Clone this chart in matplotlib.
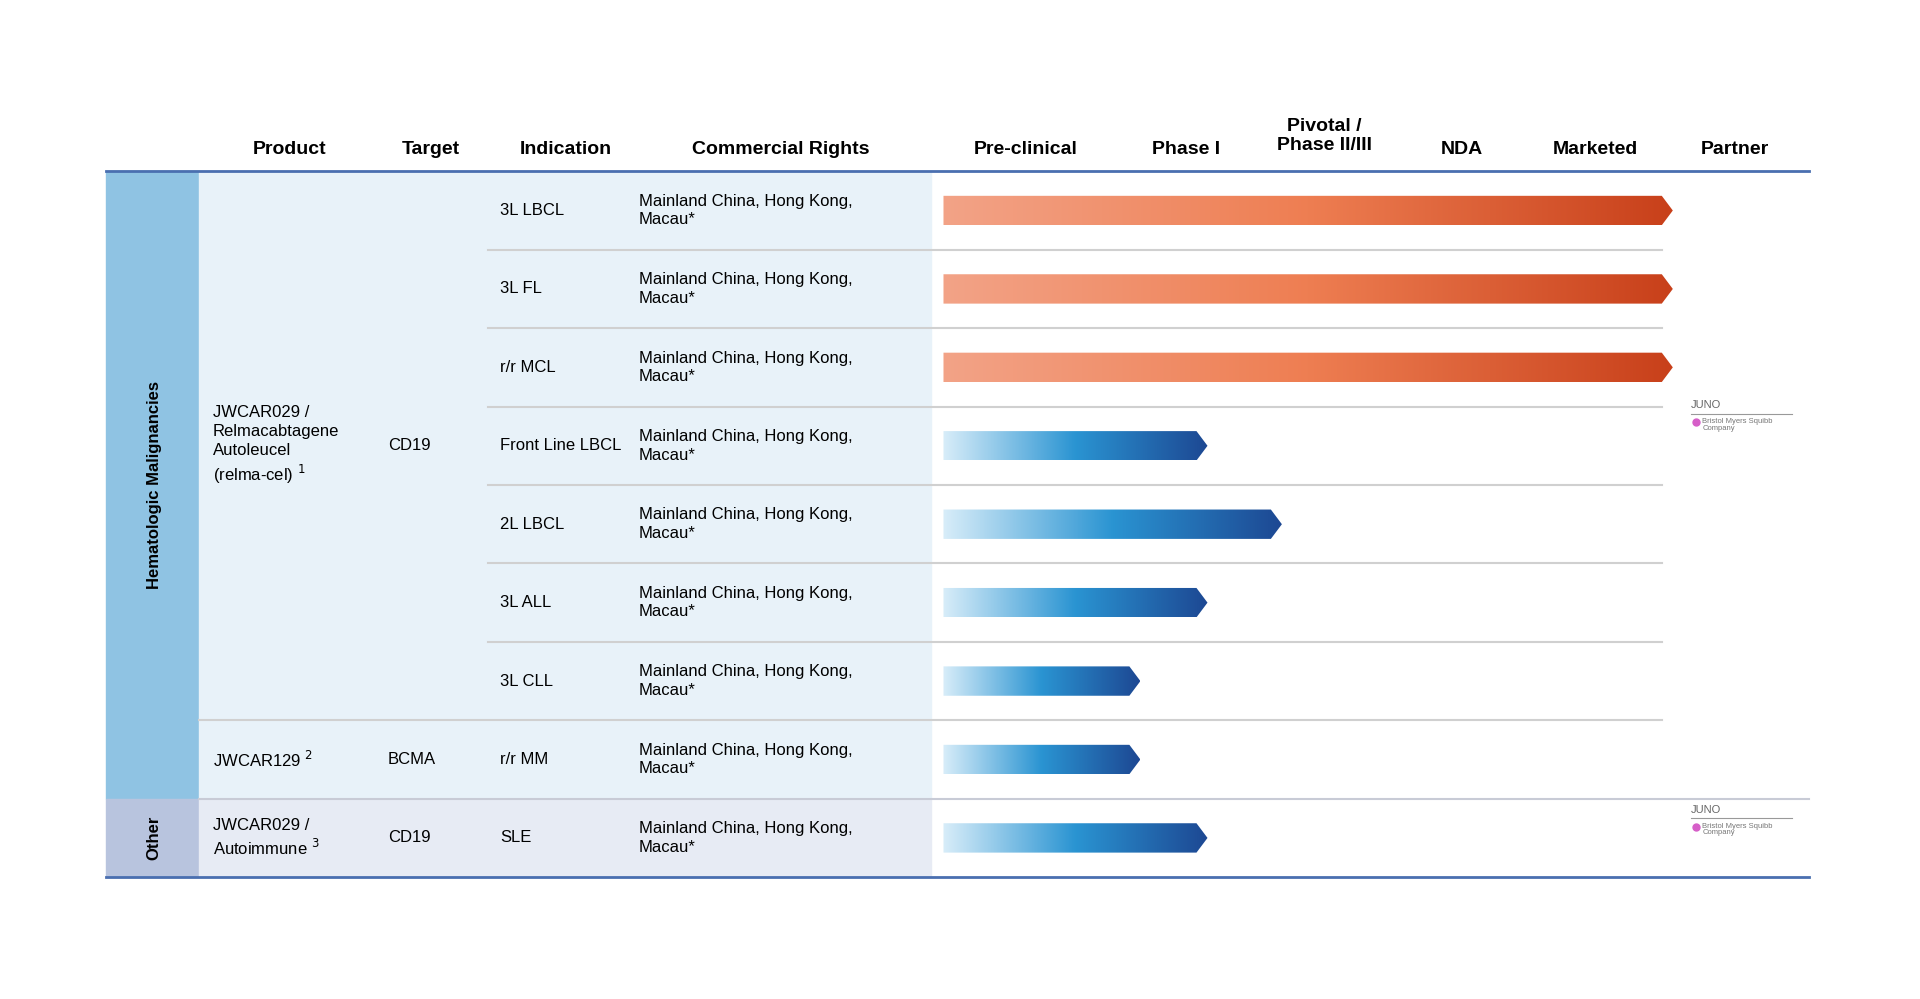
import matplotlib.pyplot as plt
import numpy as np
from matplotlib.colors import LinearSegmentedColormap
from matplotlib.patches import Polygon, Rectangle

plt.rcParams['font.family'] = ['Liberation Sans', 'DejaVu Sans']

stages = ["Pre-clinical", "Phase I", "Pivotal /\nPhase II/III", "NDA", "Marketed", "Partner"]
indications = ["3L LBCL", "3L FL", "r/r MCL", "Front Line LBCL", "2L LBCL",
               "3L ALL", "3L CLL", "r/r MM", "SLE"]
rights = "Mainland China, Hong Kong,\nMacau*"
# progress in stage units (0 = start of Pre-clinical, 5 = end of Marketed)
progress = [5.0, 5.0, 5.0, 1.81, 2.32, 1.81, 1.35, 1.35, 1.81]
approved = [True, True, True, False, False, False, False, False, False]

W, H = 1569, 816.5
fig = plt.figure(figsize=(19.2, 9.99), dpi=100)
ax = fig.add_axes([0, 0, 1, 1])
ax.set_xlim(0, W)
ax.set_ylim(H, 0)
ax.axis("off")

top, rh = 140, 64.1
n = len(indications)
bottom = top + rh * n

# backgrounds
ax.add_patch(Rectangle((87, top), 76, rh * 8, color="#8fc3e3", zorder=1))
ax.add_patch(Rectangle((87, top + rh * 8), 76, rh, color="#b8c4de", zorder=1))
ax.add_patch(Rectangle((163, top), 598, rh * 8, color="#e8f2f9", zorder=1))
ax.add_patch(Rectangle((163, top + rh * 8), 598, rh, color="#e7ebf4", zorder=1))

# header
heads = [("Product", 237), ("Target", 352), ("Indication", 462), ("Commercial Rights", 638)]
stage_x = [838, 969, 1082, 1195, 1304, 1418]
for t, x in heads:
    ax.text(x, 122, t, ha="center", va="center", fontsize=14, fontweight="bold", zorder=5)
for t, x in zip(stages, stage_x):
    ax.text(x, 122 if "\n" not in t else 111, t, ha="center", va="center", fontsize=14,
            fontweight="bold", linespacing=1.2, zorder=5)

ax.plot([87, 1478], [top, top], color="#4a6fb0", lw=2, zorder=6)
ax.plot([87, 1478], [bottom, bottom], color="#4a6fb0", lw=2, zorder=6)

# separators
for i in range(1, n):
    y = top + rh * i
    if i < 7:
        ax.plot([399, 1358], [y, y], color="#d0d0d0", lw=1.5, zorder=2)
    elif i == 7:
        ax.plot([163, 1358], [y, y], color="#d0d0d0", lw=1.5, zorder=2)
    else:
        ax.plot([163, 1478], [y, y], color="#c8cbd6", lw=1.5, zorder=2)

ax.text(126, top + rh * 4, "Hematologic Malignancies", rotation=90, ha="center", va="center",
        fontsize=12, fontweight="bold", zorder=5)
ax.text(126, top + rh * 8.5, "Other", rotation=90, ha="center", va="center",
        fontsize=12, fontweight="bold", zorder=5)

fs = 12
ls = 1.3
ax.text(174, top + rh * 3.5, "JWCAR029 /\nRelmacabtagene\nAutoleucel\n(relma-cel) $^{1}$",
        va="center", fontsize=fs, linespacing=ls, zorder=5)
ax.text(317, top + rh * 3.5, "CD19", va="center", fontsize=fs, zorder=5)
ax.text(174, top + rh * 7.5, "JWCAR129 $^{2}$", va="center", fontsize=fs, zorder=5)
ax.text(317, top + rh * 7.5, "BCMA", va="center", fontsize=fs, zorder=5)
ax.text(174, top + rh * 8.5, "JWCAR029 /\nAutoimmune $^{3}$", va="center", fontsize=fs,
        linespacing=ls, zorder=5)
ax.text(317, top + rh * 8.5, "CD19", va="center", fontsize=fs, zorder=5)

orange = LinearSegmentedColormap.from_list("o", ["#f3a387", "#ee7e52", "#c8401a"])
blue = LinearSegmentedColormap.from_list("b", ["#d8edf9", "#2a94d2", "#1d4893"])

x0, unit, bh, tip = 771, 119.2, 24, 9
for i, (ind, p, ok) in enumerate(zip(indications, progress, approved)):
    yc = top + rh * (i + 0.5)
    ax.text(409, yc, ind, va="center", fontsize=fs, zorder=5)
    ax.text(522, yc, rights, va="center", fontsize=fs, linespacing=ls, zorder=5)
    x1 = x0 + p * unit
    poly = Polygon([(x0, yc - bh / 2), (x1 - tip, yc - bh / 2), (x1, yc),
                    (x1 - tip, yc + bh / 2), (x0, yc + bh / 2)], closed=True,
                   facecolor="none", edgecolor="none")
    ax.add_patch(poly)
    grad = np.linspace(0, 1, 256).reshape(1, -1)
    im = ax.imshow(grad, cmap=orange if ok else blue, aspect="auto",
                   extent=(x0, x1, yc + bh / 2, yc - bh / 2), zorder=4)
    im.set_clip_path(poly)

# partner logos
for yl in [top + rh * 3 - 1, top + rh * 8 + 9]:
    ax.text(1382, yl, "JUNO", fontsize=8, color="#666666", va="center", zorder=5)
    ax.plot([1382, 1464], [yl + 7, yl + 7], color="#999999", lw=0.8, zorder=5)
    ax.plot(1386, yl + 14, marker="o", ms=5, color="#d65ec8", zorder=5)
    ax.text(1391, yl + 16, "Bristol Myers Squibb\nCompany", fontsize=5.5, color="#777777",
            va="center", linespacing=0.9, zorder=5)

fig.savefig("out.png", dpi=100)
